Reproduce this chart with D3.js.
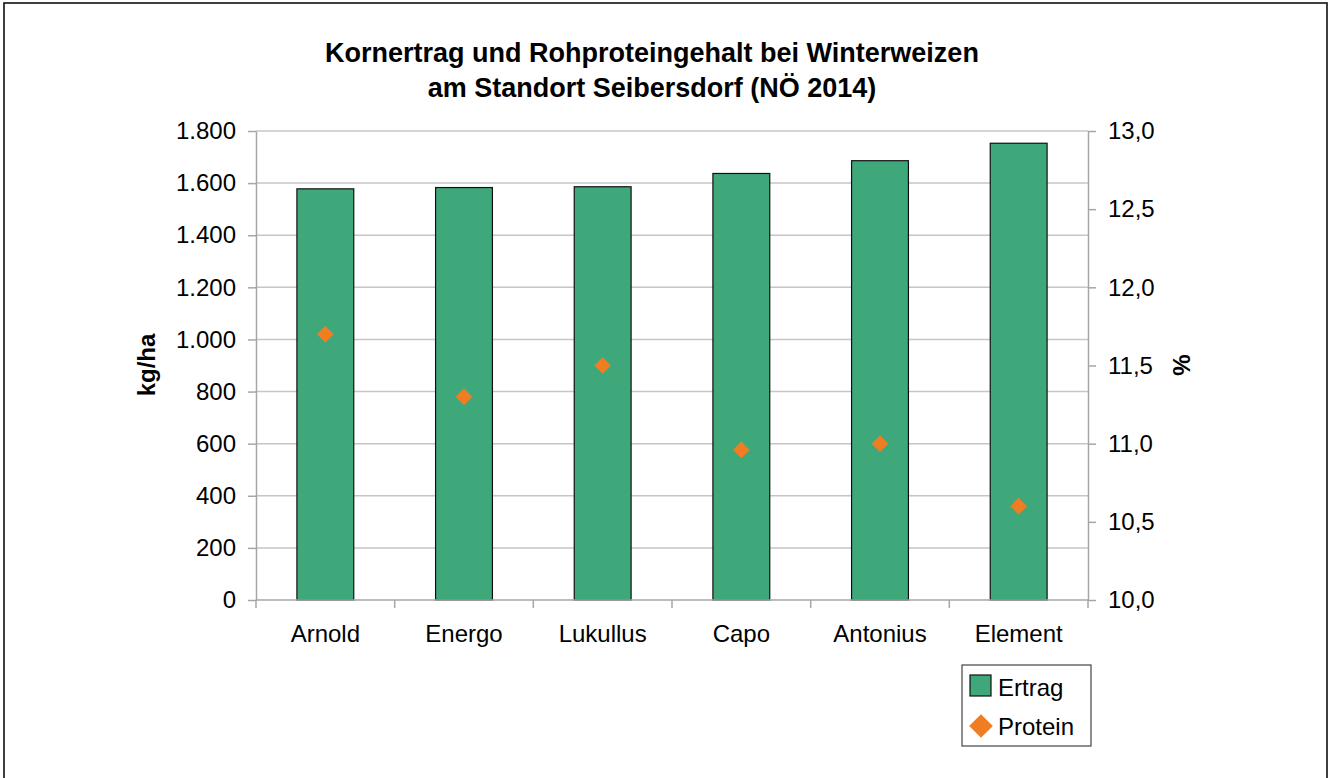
<!DOCTYPE html>
<html>
<head>
<meta charset="utf-8">
<script src="https://cdn.jsdelivr.net/npm/d3@7"></script>
<style>
  body { margin: 0; background: #fff; }
  svg { display: block; font-family: "Liberation Sans", Arial, sans-serif; }
</style>
</head>
<body>
<svg id="chart" width="1335" height="778"></svg>
<script>
// data
const sorten = ["Arnold", "Energo", "Lukullus", "Capo", "Antonius", "Element"];
const ertrag = [1578, 1583, 1586, 1637, 1686, 1753];   // kg/ha
const protein = [11.70, 11.30, 11.50, 10.96, 11.00, 10.60]; // %
const ertragTicks = [0, 200, 400, 600, 800, 1000, 1200, 1400, 1600, 1800];
const proteinTicks = [10.0, 10.5, 11.0, 11.5, 12.0, 12.5, 13.0];
const titleLines = ["Kornertrag und Rohproteingehalt bei Winterweizen", "am Standort Seibersdorf (NÖ 2014)"];

const svg = d3.select("#chart");
const plotLeft = 256, plotRight = 1088, plotTop = 131, plotBottom = 600;

const barColor = "#3fa87b";
const dotColor = "#f07d22";
const gridColor = "#c6c6c6";
const axisColor = "#a6a6a6";

// outer frame (bottom edge is cut off in the original)
svg.append("rect")
  .attr("x", 4).attr("y", 3)
  .attr("width", 1323).attr("height", 800)
  .attr("fill", "none").attr("stroke", "#111").attr("stroke-width", 1.6);

const x = d3.scaleBand().domain(sorten).range([plotLeft, plotRight]).padding(0);
const yL = d3.scaleLinear().domain([0, 1800]).range([plotBottom, plotTop]);
const yR = d3.scaleLinear().domain([10, 13]).range([plotBottom, plotTop]);

// gridlines
svg.append("g")
  .selectAll("line")
  .data(ertragTicks.filter(d => d > 0))
  .join("line")
  .attr("x1", plotLeft).attr("x2", plotRight)
  .attr("y1", d => yL(d)).attr("y2", d => yL(d))
  .attr("stroke", gridColor).attr("stroke-width", 1.5);

// bars
const barW = x.bandwidth() * 0.41;
svg.append("g")
  .selectAll("rect")
  .data(sorten)
  .join("rect")
  .attr("x", (d) => x(d) + (x.bandwidth() - barW) / 2)
  .attr("y", (d, i) => yL(ertrag[i]))
  .attr("width", barW)
  .attr("height", (d, i) => yL(0) - yL(ertrag[i]))
  .attr("fill", barColor)
  .attr("stroke", "#111")
  .attr("stroke-width", 1.2);

// protein diamonds
const diamond = d3.symbol().type(d3.symbolSquare).size(140);
svg.append("g")
  .selectAll("path")
  .data(sorten)
  .join("path")
  .attr("d", diamond)
  .attr("transform", (d, i) => `translate(${x(d) + x.bandwidth() / 2},${yR(protein[i])}) rotate(45)`)
  .attr("fill", dotColor);

// axes
const styleAxis = (g) => {
  g.selectAll(".domain").attr("stroke", axisColor).attr("stroke-width", 1.5);
  g.selectAll(".tick line").attr("stroke", axisColor).attr("stroke-width", 1.5);
  g.selectAll("text").attr("font-size", 24).attr("fill", "#000")
    .attr("font-family", "'Liberation Sans', Arial, sans-serif");
};

const fmtL = d3.format(",.0f");
svg.append("g")
  .attr("transform", `translate(${plotLeft},0)`)
  .call(d3.axisLeft(yL).tickValues(ertragTicks).tickSize(8).tickSizeOuter(0).tickPadding(12)
    .tickFormat(d => fmtL(d).replace(/,/g, ".")))
  .call(styleAxis);

svg.append("g")
  .attr("transform", `translate(${plotRight},0)`)
  .call(d3.axisRight(yR).tickValues(proteinTicks).tickSize(8).tickSizeOuter(0).tickPadding(12)
    .tickFormat(d => d3.format(".1f")(d).replace(".", ",")))
  .call(styleAxis);

// category axis: ticks on band boundaries
const xAxis = svg.append("g").attr("transform", `translate(0,${plotBottom})`);
xAxis.append("line")
  .attr("x1", plotLeft).attr("x2", plotRight)
  .attr("stroke", axisColor).attr("stroke-width", 1.5);
xAxis.selectAll(".bt")
  .data(sorten.concat([null]))
  .join("line")
  .attr("class", "bt")
  .attr("x1", (d, i) => plotLeft + i * x.step()).attr("x2", (d, i) => plotLeft + i * x.step())
  .attr("y1", 0).attr("y2", 8)
  .attr("stroke", axisColor).attr("stroke-width", 1.5);
xAxis.selectAll("text")
  .data(sorten)
  .join("text")
  .attr("x", d => x(d) + x.bandwidth() / 2)
  .attr("y", 42)
  .attr("text-anchor", "middle")
  .attr("font-size", 24)
  .text(d => d);

// titles
svg.append("g")
  .selectAll("text")
  .data(titleLines)
  .join("text")
  .attr("x", 652)
  .attr("y", (d, i) => 62 + i * 35)
  .attr("text-anchor", "middle")
  .attr("font-size", 27)
  .attr("font-weight", "bold")
  .text(d => d);

svg.append("text")
  .attr("transform", `translate(155,365) rotate(-90)`)
  .attr("text-anchor", "middle")
  .attr("font-size", 24)
  .attr("font-weight", "bold")
  .text("kg/ha");

svg.append("text")
  .attr("transform", `translate(1190,365) rotate(-90)`)
  .attr("text-anchor", "middle")
  .attr("font-size", 24)
  .attr("font-weight", "bold")
  .text("%");

// legend
const legend = svg.append("g").attr("transform", "translate(962,665)");
legend.append("rect")
  .attr("width", 129).attr("height", 81)
  .attr("fill", "#fff").attr("stroke", "#444").attr("stroke-width", 1.2);
legend.append("rect")
  .attr("x", 8).attr("y", 10).attr("width", 21).attr("height", 21)
  .attr("fill", barColor).attr("stroke", "#111").attr("stroke-width", 1.2);
legend.append("path")
  .attr("d", d3.symbol().type(d3.symbolSquare).size(280))
  .attr("transform", "translate(19,61) rotate(45)")
  .attr("fill", dotColor);
legend.selectAll(".lt")
  .data(["Ertrag", "Protein"])
  .join("text")
  .attr("class", "lt")
  .attr("x", 36)
  .attr("y", (d, i) => 31 + i * 39)
  .attr("font-size", 24)
  .text(d => d);
</script>
</body>
</html>
